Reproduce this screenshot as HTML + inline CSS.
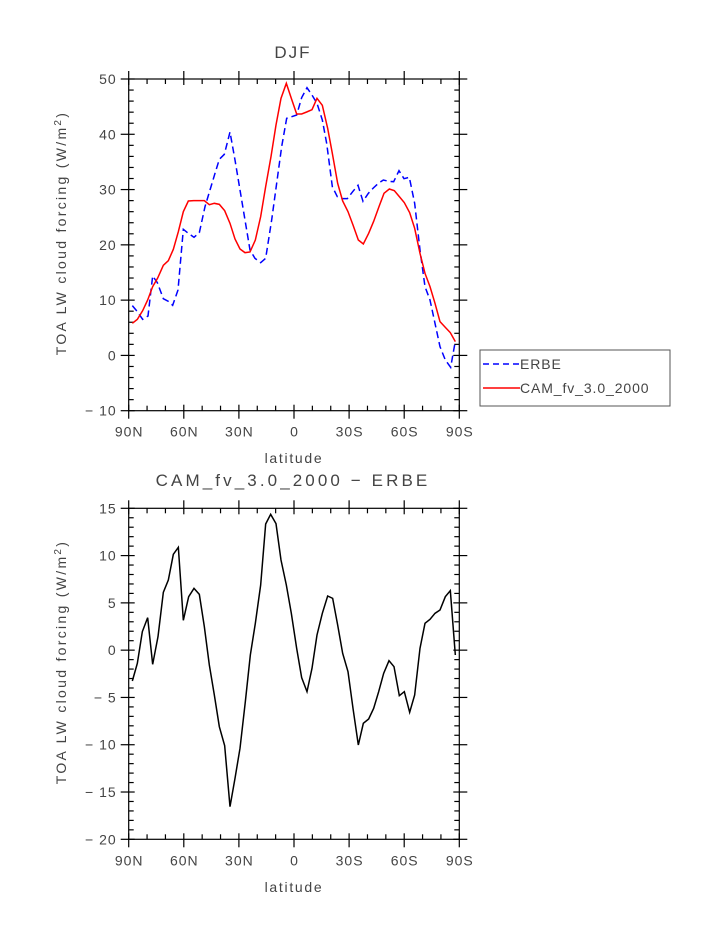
<!DOCTYPE html>
<html><head><meta charset="utf-8"><style>
html,body{margin:0;padding:0;background:#fff}
svg{display:block}
text{font-family:"Liberation Sans",sans-serif;fill:#444}
</style></head><body>
<svg id="s" width="723" height="935" viewBox="0 0 723 935" xmlns="http://www.w3.org/2000/svg">
<text x="293" y="58" font-size="17" letter-spacing="2" text-anchor="middle">DJF</text>
<text x="293" y="486" font-size="17" letter-spacing="3.1" text-anchor="middle">CAM_fv_3.0_2000 − ERBE</text>
<text x="294" y="463" font-size="14" letter-spacing="1.7" text-anchor="middle">latitude</text>
<text x="294" y="892" font-size="14" letter-spacing="1.7" text-anchor="middle">latitude</text>
<text transform="translate(66,233) rotate(-90)" font-size="14" letter-spacing="2.3" text-anchor="middle">TOA LW cloud forcing (W/m<tspan dy="-5" font-size="10">2</tspan><tspan dy="5">)</tspan></text>
<text transform="translate(66,662) rotate(-90)" font-size="14" letter-spacing="2.3" text-anchor="middle">TOA LW cloud forcing (W/m<tspan dy="-5" font-size="10">2</tspan><tspan dy="5">)</tspan></text>
<g id="ticks" stroke="#000" stroke-width="1.2" fill="none"></g>
<g id="labels" font-size="14" letter-spacing="1"></g>
<g transform="translate(100,60) scale(0.33333)" fill="none" stroke-width="1.5">
<polyline vector-effect="non-scaling-stroke" stroke="#00f" stroke-dasharray="7,4" points="97,737 112,755 128,778 144,768 158,648 172,668 190,716 205,724 218,736 234,690 250,508 265,520 282,532 298,518 315,440 330,390 345,340 358,298 373,283 390,216 405,300 420,390 435,480 450,570 465,595 482,608 497,595 515,480 530,370 545,260 560,175 575,170 590,165 605,113 621,83 636,105 651,130 667,180 680,250 697,380 712,410 727,416 742,416 758,395 774,376 789,424 805,400 820,384 835,370 850,360 866,364 881,365 897,332 912,356 928,352 944,430 960,570 975,680 990,720 1005,790 1020,860 1036,900 1052,922 1066,843"/>
<polyline vector-effect="non-scaling-stroke" stroke="#f00" points="97,790 112,778 128,752 143,720 158,680 173,654 190,616 205,602 220,568 235,515 250,455 265,423 281,422 297,422 313,422 328,434 343,430 358,433 374,452 390,490 405,537 420,567 435,578 450,576 466,540 482,470 497,380 513,290 528,195 543,115 559,70 574,115 590,162 605,162 620,156 636,149 651,115 667,136 683,205 697,280 713,370 728,423 744,455 759,495 775,540 790,552 806,520 821,484 837,440 852,400 868,387 883,392 898,410 913,428 929,458 944,505 960,580 975,640 990,680 1005,730 1020,785 1036,802 1051,818 1066,845"/>
</g>
<g transform="translate(100,495) scale(0.33333)" fill="none" stroke-width="1.5">
<polyline vector-effect="non-scaling-stroke" stroke="#000" points="97,558 112,505 127,410 143,368 158,508 174,425 190,292 205,255 220,178 235,157 250,376 266,305 282,280 298,298 313,395 328,510 343,600 358,695 374,752 390,935 405,850 420,760 436,620 451,480 466,385 482,270 497,87 512,58 528,86 543,195 559,270 574,355 590,460 605,548 621,590 636,520 651,420 667,355 683,303 698,310 713,390 728,475 744,530 759,640 775,750 790,685 806,672 821,640 836,590 851,535 867,497 882,515 898,602 913,590 929,652 944,600 960,460 975,385 990,373 1005,355 1020,345 1036,305 1051,287 1066,480"/>
</g>
<rect x="480" y="350" width="190" height="56" fill="none" stroke="#555" stroke-width="1"/>
<line x1="483" y1="364" x2="520" y2="364" stroke="#00f" stroke-width="1.5" stroke-dasharray="6,4"/>
<line x1="483" y1="388" x2="520" y2="388" stroke="#f00" stroke-width="1.5"/>
<text x="520" y="369" font-size="14" letter-spacing="0.9">ERBE</text>
<text x="520" y="393" font-size="14" letter-spacing="0.9">CAM_fv_3.0_2000</text>
</svg>
<script>
var NS="http://www.w3.org/2000/svg",T=document.getElementById('ticks'),L=document.getElementById('labels');
function ln(x1,y1,x2,y2){var e=document.createElementNS(NS,'line');e.setAttribute('x1',x1);e.setAttribute('y1',y1);e.setAttribute('x2',x2);e.setAttribute('y2',y2);T.appendChild(e);}
function tx(x,y,s,a){var e=document.createElementNS(NS,'text');e.setAttribute('x',x);e.setAttribute('y',y);e.setAttribute('text-anchor',a);e.textContent=s;L.appendChild(e);}
function plot(top,bot,ymin,ymax,major,minor){
 var l=128.7,r=459.3;
 var rc=document.createElementNS(NS,'rect');rc.setAttribute('x',l);rc.setAttribute('y',top);rc.setAttribute('width',r-l);rc.setAttribute('height',bot-top);T.appendChild(rc);
 var xl=['90N','60N','30N','0','30S','60S','90S'];
 for(var i=0;i<=18;i++){var x=l+(r-l)*i/18;
  if(i%3==0){ln(x,bot,x,bot+8);ln(x,top,x,top-8);ln(x,bot,x,bot-6);ln(x,top,x,top+6);tx(x+0.5,bot+26,xl[i/3],'middle');}
  else{ln(x,bot,x,bot-5);ln(x,top,x,top+5);}}
 for(var v=ymin;v<=ymax+1e-6;v+=minor){var y=bot-(v-ymin)/(ymax-ymin)*(bot-top);
  var isM=Math.abs(Math.round(v/major)*major-v)<1e-6;
  if(isM){ln(l,y,l-8,y);ln(r,y,r+8,y);ln(l,y,l+6,y);ln(r,y,r-6,y);tx(l-12,y+5,(v<0?'− ':'')+Math.abs(v),'end');}
  else{ln(l,y,l+5,y);ln(r,y,r-5,y);}}
}
plot(79,410.7,-10,50,10,2);
plot(508.3,839.3,-20,15,5,1);
</script>
</body></html>
